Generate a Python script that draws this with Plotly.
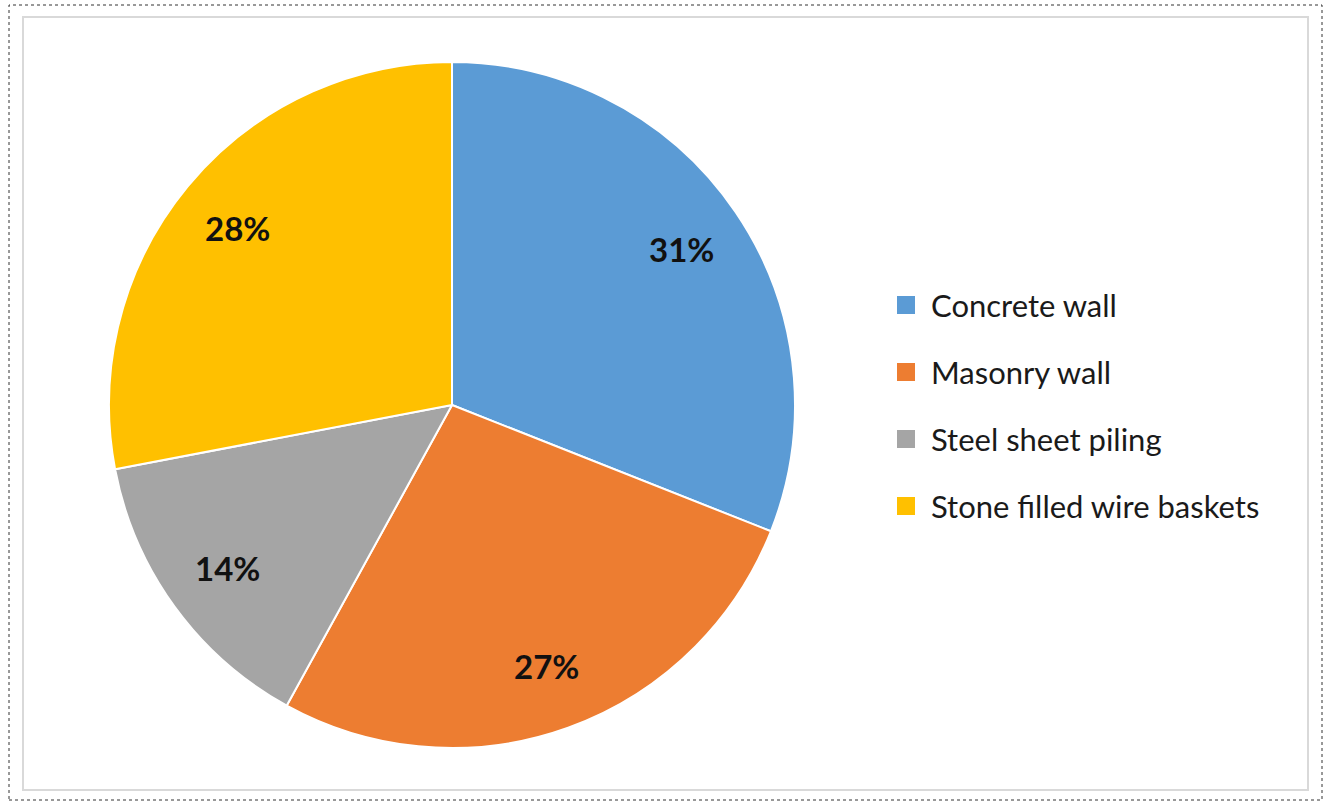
import math
import plotly.graph_objects as go

# Retaining-wall types and their shares (%)
categories = ["Concrete wall", "Masonry wall", "Steel sheet piling", "Stone filled wire baskets"]
shares = [31, 27, 14, 28]
colors = ["#5B9BD5", "#ED7D31", "#A5A5A5", "#FFC000"]

W, H = 1327, 803
cx_px, cy_px, r_px = 452, 405, 343

fig = go.Figure(
    go.Pie(
        labels=categories,
        values=shares,
        sort=False,
        direction="clockwise",
        rotation=0,
        marker=dict(colors=colors, line=dict(color="white", width=2)),
        textinfo="none",
        hoverinfo="label+percent",
        showlegend=False,
        domain=dict(
            x=[(cx_px - r_px) / W, (cx_px + r_px) / W],
            y=[1 - (cy_px + r_px) / H, 1 - (cy_px - r_px) / H],
        ),
    )
)

# Percentage labels placed inside each slice, along the slice's mid-angle
total = sum(shares)
cum = 0
label_r = 0.81
for val in shares:
    mid = (cum + val / 2) / total * 2 * math.pi
    cum += val
    px = cx_px + label_r * r_px * math.sin(mid)
    py = cy_px - label_r * r_px * math.cos(mid)
    fig.add_annotation(
        x=px / W, y=1 - py / H, xref="paper", yref="paper",
        text=f"<b>{round(val / total * 100)}%</b>", showarrow=False,
        font=dict(family="Lato", size=33, color="#111111"),
        xanchor="center", yanchor="middle",
    )

# Legend: colour square + label per category
leg_x0, leg_y0, leg_dy, sq = 897, 305, 67, 18
for i, (name, col) in enumerate(zip(categories, colors)):
    yc = leg_y0 + i * leg_dy
    fig.add_shape(
        type="rect", xref="paper", yref="paper",
        x0=leg_x0 / W, x1=(leg_x0 + sq) / W,
        y0=1 - (yc + sq / 2) / H, y1=1 - (yc - sq / 2) / H,
        fillcolor=col, line=dict(width=0),
    )
    fig.add_annotation(
        x=929 / W, y=1 - yc / H, xref="paper", yref="paper",
        text=name, showarrow=False, xanchor="left", yanchor="middle",
        font=dict(family="Lato", size=31, color="#1a1a1a"),
    )

# Chart area frame and outer dotted border
fig.add_shape(type="rect", xref="paper", yref="paper",
              x0=23 / W, x1=1308 / W, y0=1 - 790 / H, y1=1 - 17 / H,
              line=dict(color="#d9d9d9", width=2))
fig.add_shape(type="rect", xref="paper", yref="paper",
              x0=9 / W, x1=1322 / W, y0=1 - 800 / H, y1=1 - 5 / H,
              line=dict(color="#333333", width=1, dash="dot"))

fig.update_layout(
    width=W, height=H,
    margin=dict(l=0, r=0, t=0, b=0),
    paper_bgcolor="white", plot_bgcolor="white",
)

fig.write_html("out.html")
